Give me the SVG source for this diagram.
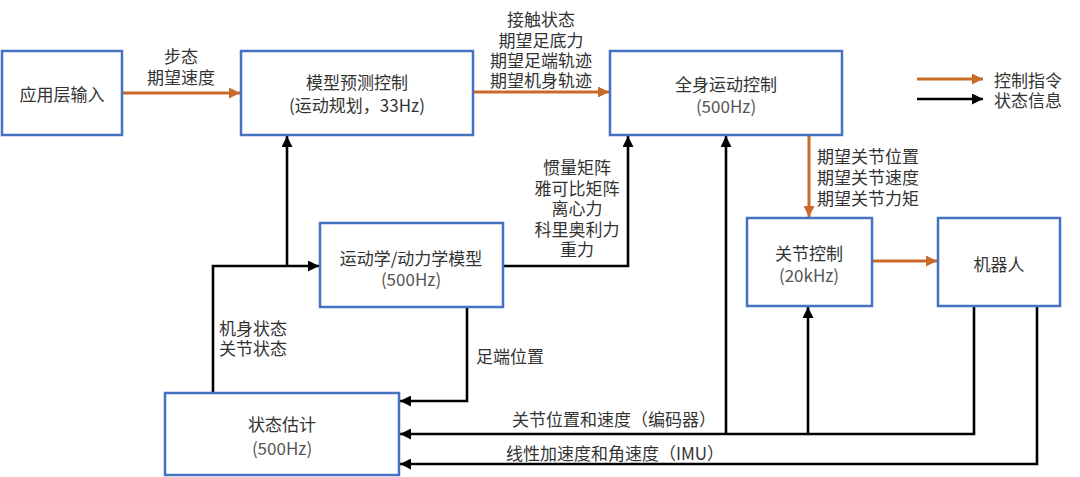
<svg xmlns="http://www.w3.org/2000/svg" width="1080" height="477" viewBox="0 0 1080 477">
<style>
.box{fill:#fff;stroke:#4472c4;stroke-width:2.5}
.t{font-family:"Noto Sans CJK SC","Liberation Sans",sans-serif;font-size:17px;fill:#333;dominant-baseline:central}
.c{text-anchor:middle}
.s{fill:#555}
.o{fill:none;stroke:#c96a28;stroke-width:3}
.k{fill:none;stroke:#000;stroke-width:2.6}
</style>
<defs>
<marker id="ao" markerUnits="userSpaceOnUse" markerWidth="11" markerHeight="11" refX="11" refY="5.5" orient="auto"><path d="M0,0 L11,5.5 L0,11 z" fill="#c96a28"/></marker>
<marker id="ak" markerUnits="userSpaceOnUse" markerWidth="11" markerHeight="11" refX="11" refY="5.5" orient="auto"><path d="M0,0 L11,5.5 L0,11 z" fill="#000"/></marker>
</defs>
<rect width="1080" height="477" fill="#fff"/>
<g id="connectors">
<path class="o" d="M123,93 H240" marker-end="url(#ao)"/>
<path class="o" d="M473,92 H609" marker-end="url(#ao)"/>
<path class="o" d="M809,135 V217" marker-end="url(#ao)"/>
<path class="o" d="M872,261 H937" marker-end="url(#ao)"/>
<path class="k" d="M287,266 V136" marker-end="url(#ak)"/>
<path class="k" d="M213,393 V266 H319" marker-end="url(#ak)"/>
<path class="k" d="M503,266 H628 V136" marker-end="url(#ak)"/>
<path class="k" d="M467,307 V401 H400" marker-end="url(#ak)"/>
<path class="k" d="M974,306 V434 H400" marker-end="url(#ak)"/>
<path class="k" d="M726,434 V136" marker-end="url(#ak)"/>
<path class="k" d="M808,434 V307" marker-end="url(#ak)"/>
<path class="k" d="M1037,306 V464 H400" marker-end="url(#ak)"/>
<path class="o" d="M917,79 H983" marker-end="url(#ao)"/>
<path class="k" d="M917,99 H983" marker-end="url(#ak)"/>
</g>
<g id="labels">
<text class="t c" x="181" y="55">步态</text>
<text class="t c" x="181" y="76">期望速度</text>
<text class="t c" x="541" y="18">接触状态</text>
<text class="t c" x="541" y="39">期望足底力</text>
<text class="t c" x="541" y="59">期望足端轨迹</text>
<text class="t c" x="541" y="79">期望机身轨迹</text>
<text class="t" x="817" y="155">期望关节位置</text>
<text class="t" x="817" y="176">期望关节速度</text>
<text class="t" x="817" y="197">期望关节力矩</text>
<text class="t c" x="577" y="166">惯量矩阵</text>
<text class="t c" x="577" y="187">雅可比矩阵</text>
<text class="t c" x="577" y="207">离心力</text>
<text class="t c" x="577" y="228">科里奥利力</text>
<text class="t c" x="577" y="248">重力</text>
<text class="t" x="219" y="327">机身状态</text>
<text class="t" x="219" y="347">关节状态</text>
<text class="t" x="476" y="355">足端位置</text>
<text class="t" x="512" y="418">关节位置和速度（编码器）</text>
<text class="t" x="506" y="452">线性加速度和角速度（IMU）</text>
<text class="t" x="994" y="79">控制指令</text>
<text class="t" x="994" y="99">状态信息</text>
</g>
<g id="app-input"><rect class="box" x="2" y="51" width="120" height="84"/><text class="t c" x="62" y="93">应用层输入</text></g>
<g id="mpc"><rect class="box" x="241" y="51" width="232" height="84"/><text class="t c" x="357" y="81">模型预测控制</text><text class="t c" x="357" y="104">(运动规划，33Hz)</text></g>
<g id="wbc"><rect class="box" x="610" y="51" width="232" height="84"/><text class="t c" x="726" y="83">全身运动控制</text><text class="t c s" x="726" y="105">(500Hz)</text></g>
<g id="model"><rect class="box" x="320" y="223" width="183" height="84"/><text class="t c" x="411" y="257">运动学/动力学模型</text><text class="t c s" x="411" y="278">(500Hz)</text></g>
<g id="joint-ctrl"><rect class="box" x="747" y="218" width="125" height="88"/><text class="t c" x="809" y="252">关节控制</text><text class="t c s" x="809" y="274">(20kHz)</text></g>
<g id="robot"><rect class="box" x="938" y="218" width="122" height="88"/><text class="t c" x="999" y="263">机器人</text></g>
<g id="state-est"><rect class="box" x="165" y="393" width="234" height="82"/><text class="t c" x="282" y="423">状态估计</text><text class="t c s" x="282" y="447">(500Hz)</text></g>
</svg>
